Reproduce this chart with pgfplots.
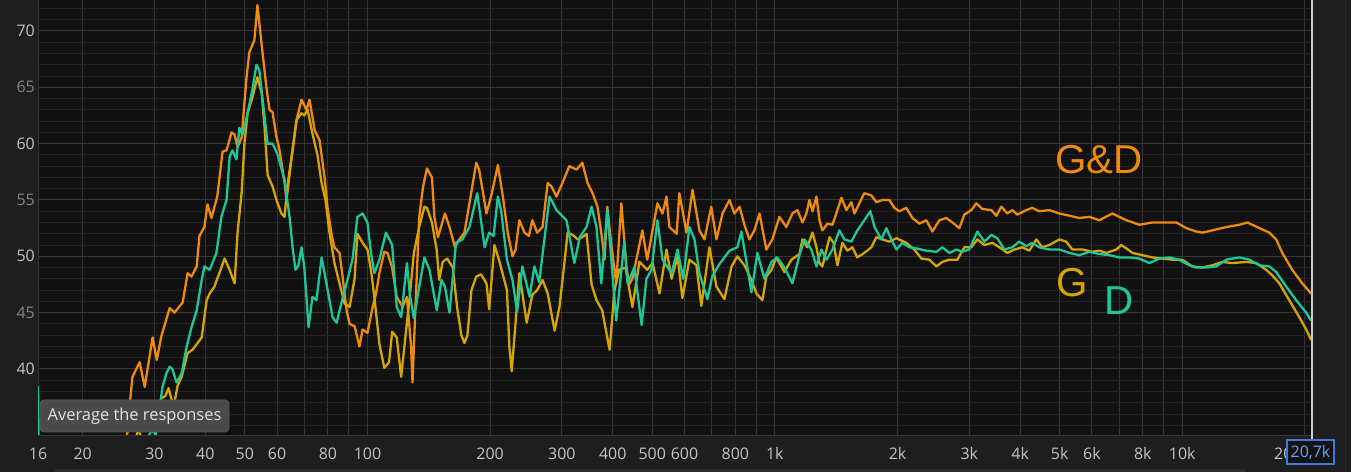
\documentclass[border=0pt]{standalone}
\usepackage{pgfplots}
\pgfplotsset{compat=1.18}
\usepackage{fontspec}
\setmainfont{Open Sans}
\newfontfamily\arialf{Liberation Sans}
\definecolor{outbg}{HTML}{1E1E1E}
\definecolor{plotbg}{HTML}{111111}
\definecolor{gminor}{HTML}{222222}
\definecolor{gmaj}{HTML}{484848}
\definecolor{gvert}{HTML}{363636}
\definecolor{gdec}{HTML}{666666}
\definecolor{cor}{HTML}{EE8A0C}
\definecolor{cgold}{HTML}{D6A600}
\definecolor{cteal}{HTML}{1DC79A}
\definecolor{lbl}{HTML}{C4C4C4}
\definecolor{lbldim}{HTML}{858585}
\definecolor{tipbg}{HTML}{4A4A4A}
\definecolor{tipbd}{HTML}{5A5A5A}
\definecolor{tiptx}{HTML}{E2E2E2}
\definecolor{bluebd}{HTML}{3F7AD6}
\definecolor{bluetx}{HTML}{6AA2F2}
\definecolor{panelln}{HTML}{2E2E2E}
\definecolor{scroll}{HTML}{2A2A2A}
\begin{document}
\begin{tikzpicture}[x=1bp,y=1bp]
\fill[outbg] (0,0) rectangle (1351,472);
\useasboundingbox (0,0) rectangle (1351,472);
\fill[scroll] (55,0) rectangle (1245,3);
\draw[panelln, line width=1bp] (1345,0) -- (1345,472);
\begin{axis}[
  at={(38bp,36bp)}, anchor=south west,
  width=1273bp, height=436bp, scale only axis,
  xmode=log,
  xmin=15.54, xmax=20700, ymin=34.05, ymax=72.75,
  axis background/.style={fill=plotbg},
  axis line style={draw=none},
  major tick length=0pt, minor tick length=0pt,
  /pgf/number format/assume math mode=true,
  tick label style={font=\fontsize{16}{18}\selectfont},
  xtick={15.54,20,30,40,50,60,70,80,90,200,300,400,500,600,700,800,900,2000,3000,4000,5000,6000,7000,8000,9000,20000},
  xticklabels={16,20,30,40,50,60,{},80,{},200,300,400,500,600,{},800,{},2k,3k,4k,5k,6k,{},8k,{},{}},
  extra x ticks={100,1000,10000},
  extra x tick labels={100,1k,10k},
  extra x tick style={grid style={draw=gdec, line width=1.2bp}},
  xticklabel style={anchor=base, inner sep=0pt, yshift=-24bp, text=lbl},
  ytick={45,55,65},
  yticklabels={45,55,65},
  yticklabel style={anchor=east, inner sep=0pt, xshift=-3bp, text=lbldim},
  minor ytick={35,36,...,72},
  extra y ticks={40,50,60,70},
  extra y tick labels={40,50,60,70},
  extra y tick style={grid style={draw=gmaj, line width=1.2bp}, yticklabel style={text=lbl}},
  grid=both,
  major grid style={draw=gvert, line width=1bp},
  minor grid style={draw=gminor, line width=1bp},
  every axis plot/.append style={line width=2.3bp, line join=round, line cap=round},
]
% G&D
\addplot[cor] coordinates {
(25.3,33.0) (25.8,34.5) (26.2,37.5) (26.5,39.3) (27.6,40.6) (28.4,38.4) (29.7,42.8) (30.4,40.8) (31.2,42.9) (32.7,45.4) (33.6,45.0) (35.2,45.9) (36.2,48.5) (37.0,48.2) (38.1,49.1) (38.7,51.8) (39.8,52.6) (40.5,54.6) (41.4,53.4) (42.8,55.3) (44.1,59.3) (45.1,59.4) (46.4,61.0) (47.2,60.8) (48.0,59.7) (49.1,60.5) (50.5,65.9) (51.3,68.1) (52.8,69.2) (53.7,72.3) (55.3,68.0) (56.5,65.0) (57.5,63.0) (58.5,62.8) (59.8,60.6) (60.8,59.5) (62.6,56.5) (63.3,55.0) (65.1,58.6) (67.0,62.1) (68.9,63.9) (70.9,63.0) (72.1,63.9) (74.2,61.2) (76.3,60.3) (78.5,57.0) (79.8,54.4) (81.6,52.0) (83.0,50.8) (85.4,50.3) (86.9,48.2) (88.9,45.2) (90.4,44.0) (93.0,43.8) (95.6,42.0) (97.3,43.5) (100,43.2) (103,45.5) (105,46.7) (107,48.5) (110,50.4) (112,50.3) (115,49.0) (118,46.4) (122,45.5) (125,46.4) (128,42.0) (129,38.8) (131,45.0) (134,53.5) (137,56.2) (140,57.8) (144,57.0) (146,53.5) (149,51.7) (155,53.8) (159,52.6) (164,50.8) (168,51.5) (173,52.1) (178,54.7) (185,58.3) (188,57.7) (196,53.8) (202,55.6) (209,58.1) (215,55.3) (221,52.1) (227,50.0) (231,50.6) (236,53.2) (243,52.1) (249,51.8) (254,53.2) (261,52.1) (269,52.6) (277,56.5) (283,56.2) (291,55.3) (301,56.5) (313,58.0) (326,57.7) (337,58.3) (347,56.5) (357,55.6) (367,54.4) (375,52.1) (382,49.7) (388,54.4) (397,51.0) (408,47.6) (420,54.7) (432,49.1) (439,47.5) (447,48.0) (473,52.3) (486,49.7) (515,54.7) (530,53.8) (542,55.3) (551,52.6) (574,52.0) (583,55.6) (607,52.1) (628,55.9) (653,52.3) (672,51.5) (698,54.4) (719,51.5) (744,53.8) (774,55.0) (796,53.8) (819,54.4) (842,52.8) (866,51.5) (891,52.3) (917,53.8) (953,50.6) (986,51.5) (1026,53.5) (1067,52.6) (1104,53.8) (1136,54.1) (1169,53.0) (1195,53.8) (1216,55.0) (1237,54.0) (1265,55.3) (1287,53.2) (1308,52.3) (1347,52.9) (1385,52.8) (1424,54.1) (1457,55.2) (1498,54.1) (1541,54.8) (1568,53.8) (1612,54.7) (1658,55.6) (1726,55.4) (1775,54.8) (1836,55.0) (1910,55.0) (1965,54.3) (2021,54.0) (2102,54.3) (2176,53.4) (2263,52.9) (2354,53.2) (2436,52.2) (2534,53.2) (2636,53.4) (2727,53.0) (2837,52.5) (2918,53.7) (3036,54.1) (3123,54.7) (3231,54.2) (3400,54.1) (3496,53.6) (3598,54.4) (3721,53.8) (3828,54.1) (3937,53.7) (4142,54.1) (4284,54.3) (4456,54.0) (4716,54.1) (4992,53.8) (5282,53.6) (5590,53.4) (5915,53.5) (6257,53.2) (6736,53.8) (7292,53.2) (7848,52.8) (8444,53.0) (9141,53.0) (9670,53.0) (10230,52.5) (10820,52.2) (11200,52.1) (11850,52.3) (12830,52.6) (13810,52.8) (14450,53.0) (15460,52.5) (16360,52.1) (17010,51.5) (17600,50.3) (18620,48.8) (19700,47.6) (20700,46.7)
};
% G
\addplot[cgold] coordinates {
(26.8,33.0) (27.3,34.6) (27.7,34.2) (28.4,33.0) (30.0,33.5) (30.5,35.5) (31.2,37.4) (31.9,37.6) (32.5,38.3) (33.1,37.2) (33.6,37.0) (34.2,38.5) (35.0,39.3) (36.2,41.4) (37.2,41.7) (38.3,42.3) (39.2,42.8) (40.3,46.1) (41.0,46.7) (42.1,47.3) (43.3,48.5) (44.6,49.8) (45.9,48.8) (47.2,47.6) (48.0,52.1) (49.1,55.6) (49.9,60.0) (50.8,62.7) (52.2,64.1) (53.7,65.9) (55.0,64.5) (55.9,61.5) (56.9,57.2) (58.5,56.2) (59.8,55.0) (61.5,53.8) (62.6,53.5) (63.6,56.2) (65.1,58.8) (67.0,62.1) (68.9,62.7) (70.0,62.5) (71.3,63.0) (73.3,60.9) (75.4,59.0) (77.2,56.5) (78.9,55.0) (80.7,52.1) (83.0,49.4) (85.4,47.6) (87.9,45.8) (90.4,45.5) (93.0,48.0) (94.5,52.0) (97.3,51.2) (100,50.6) (102,48.8) (104,46.4) (107,42.2) (110,40.1) (113,40.6) (115,43.3) (118,42.8) (121,39.3) (125,44.1) (127,46.4) (130,50.3) (134,52.6) (138,54.4) (140,54.3) (144,53.0) (148,50.5) (150,47.9) (153,49.5) (157,49.8) (162,49.0) (166,45.5) (170,43.0) (173,42.3) (176,43.0) (180,47.0) (185,48.2) (190,48.4) (196,47.6) (199,45.3) (205,51.0) (211,49.5) (220,47.0) (223,42.0) (226,39.8) (232,45.0) (236,48.5) (246,44.1) (254,46.6) (261,47.0) (269,47.9) (277,46.7) (288,43.4) (296,45.5) (305,49.7) (310,52.1) (319,51.9) (328,51.5) (337,51.7) (345,52.0) (355,47.5) (365,46.1) (377,45.2) (393,41.7) (404,47.0) (415,48.8) (430,49.0) (447,45.5) (465,49.5) (486,48.8) (501,49.4) (521,46.7) (542,50.6) (558,48.0) (577,50.0) (593,46.3) (617,49.7) (642,49.2) (660,45.6) (691,50.8) (719,47.3) (752,46.2) (783,49.1) (809,50.0) (842,49.2) (876,47.9) (901,46.7) (932,46.1) (953,48.2) (981,48.8) (1008,49.9) (1056,48.6) (1098,49.7) (1149,50.2) (1169,51.5) (1201,50.8) (1237,52.1) (1265,50.8) (1287,49.4) (1308,49.1) (1362,51.7) (1393,51.2) (1424,49.2) (1465,51.2) (1507,50.5) (1550,50.8) (1594,49.9) (1658,50.3) (1726,50.8) (1775,51.7) (1836,51.5) (1910,51.3) (1988,51.6) (2102,51.2) (2200,50.6) (2289,49.8) (2395,49.7) (2492,49.1) (2577,49.5) (2681,49.7) (2805,49.7) (2918,50.8) (3036,50.8) (3141,51.5) (3269,51.0) (3419,51.2) (3557,50.8) (3721,50.3) (3872,50.6) (4049,50.8) (4212,50.5) (4381,51.5) (4533,50.8) (4716,51.0) (4992,51.5) (5191,51.3) (5373,50.6) (5687,50.6) (6014,50.4) (6257,50.5) (6511,50.3) (6888,50.6) (7086,51.0) (7292,50.7) (7545,50.3) (7980,50.1) (8444,49.9) (8932,49.8) (9453,49.7) (10000,49.7) (10580,49.1) (11200,49.0) (11850,49.2) (12540,49.5) (13260,49.4) (14370,49.5) (15200,49.4) (16070,48.8) (16640,48.3) (17310,47.6) (18310,46.1) (19370,44.6) (20150,43.5) (20700,42.6)
};
% D
\addplot[cteal] coordinates {
(15.54,38.4) (15.6,33.0)
};
\addplot[cteal] coordinates {
(28.7,33.5) (29.5,34.6) (30.2,34.2) (30.9,36.5) (31.4,38.4) (32.1,39.6) (32.7,40.2) (33.2,40.0) (34.0,38.8) (35.0,39.6) (36.0,42.0) (37.0,43.7) (38.1,45.2) (39.2,47.9) (39.8,49.1) (41.0,48.8) (42.6,50.3) (43.8,53.5) (45.1,55.0) (45.9,58.8) (46.6,59.4) (47.7,58.6) (48.5,61.4) (49.4,60.8) (50.8,62.7) (52.2,64.8) (53.4,67.0) (54.3,66.5) (55.9,62.4) (56.9,60.0) (58.5,60.0) (60.1,59.1) (62.6,56.8) (64.4,53.5) (65.5,50.8) (66.6,48.8) (67.7,49.2) (68.9,50.8) (70.0,49.0) (71.7,43.7) (73.3,46.4) (75.0,46.1) (77.2,49.9) (78.5,48.5) (80.7,46.1) (82.1,44.6) (84.0,44.1) (86.4,45.9) (89.3,47.9) (91.9,49.7) (94.5,53.5) (97.3,53.8) (100,53.0) (102,50.3) (104,48.5) (107,49.7) (111,52.1) (115,51.0) (118,45.5) (121,44.6) (125,49.4) (127,46.7) (130,44.5) (134,47.3) (138,49.9) (142,48.8) (148,45.2) (152,47.9) (155,47.3) (159,45.0) (165,51.2) (171,51.5) (178,52.6) (186,55.6) (194,50.8) (199,52.1) (204,51.8) (209,55.3) (213,54.0) (220,49.7) (227,47.9) (233,45.1) (240,49.1) (250,46.4) (257,49.1) (264,47.7) (280,55.3) (291,54.1) (308,53.2) (322,49.4) (332,51.7) (345,52.6) (355,54.4) (365,52.6) (375,47.6) (388,54.1) (408,44.3) (427,51.3) (435,47.6) (452,49.0) (471,43.9) (484,48.0) (498,48.8) (515,53.2) (530,49.7) (558,48.5) (577,50.6) (596,48.0) (617,52.6) (635,51.5) (653,48.5) (683,46.2) (702,48.2) (731,49.3) (774,50.5) (809,50.8) (828,52.2) (852,49.5) (876,46.8) (906,50.3) (943,48.0) (981,49.5) (1014,49.9) (1056,49.0) (1104,47.6) (1149,50.1) (1182,51.5) (1229,50.6) (1265,49.1) (1301,50.6) (1339,49.7) (1385,50.6) (1440,52.3) (1482,51.5) (1541,51.3) (1594,52.3) (1658,53.2) (1716,54.0) (1756,52.6) (1826,51.5) (1878,52.5) (1931,51.5) (1988,50.6) (2055,51.2) (2138,50.8) (2225,50.7) (2354,50.5) (2492,50.4) (2577,50.8) (2681,50.3) (2789,50.6) (2885,50.4) (3000,50.6) (3141,52.2) (3269,51.3) (3400,51.9) (3516,51.6) (3660,50.6) (3828,50.8) (3980,51.3) (4142,50.9) (4284,51.2) (4456,50.8) (4716,50.6) (4992,50.6) (5282,50.3) (5590,50.1) (5915,50.4) (6257,50.2) (6623,50.1) (7004,49.9) (7417,49.9) (7848,49.8) (8304,49.4) (8787,49.8) (9297,49.9) (9810,49.7) (10410,49.2) (10820,49.0) (11460,49.0) (12120,49.1) (12830,49.7) (13810,49.9) (14610,49.7) (15460,49.2) (16360,49.1) (17010,48.6) (18000,47.3) (19040,46.1) (20150,45.0) (20700,44.3)
};
\end{axis}
% bottom border
\draw[gvert, line width=1bp] (38,36) -- (1311,36);
% labels
\node[anchor=base west, inner sep=0pt, text=cor, font=\arialf\fontsize{40.5}{44}\selectfont] at (1055,298) {G\&D};
\node[anchor=base west, inner sep=0pt, text=cgold, font=\arialf\fontsize{40.5}{44}\selectfont] at (1056,175) {G};
\node[anchor=base west, inner sep=0pt, text=cteal, font=\arialf\fontsize{40.5}{44}\selectfont] at (1104,157) {D};
% tooltip
\draw[fill=tipbg, draw=tipbd, rounded corners=4bp, line width=0.8bp] (40,40) rectangle (229,72);
\node[text=tiptx, inner sep=0pt, font=\fontsize{16.5}{18}\selectfont] at (134.5,56) {Average the responses};
% right side cursor and box
\draw[color=lbl!90, line width=1.5bp] (1312,31) -- (1312,472);
\node[anchor=base west, inner sep=0pt, text=lbl, font=\fontsize{16}{18}\selectfont] at (1274,12) {20k};
\draw[fill=black!92, draw=bluebd, line width=1.2bp] (1287,8) rectangle (1334,32);
\node[text=bluetx, inner sep=0pt, font=\fontsize{16}{18}\selectfont] at (1310.5,20) {20,7k};
\end{tikzpicture}
\end{document}
